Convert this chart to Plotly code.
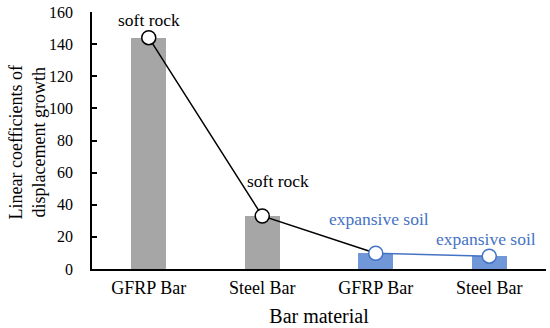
import plotly.graph_objects as go

# Values
categories = ["GFRP Bar", "Steel Bar", "GFRP Bar", "Steel Bar"]
bar_values = [144, 33, 9.8, 8]
point_values = [144, 33, 9.8, 8]
labels = ["soft rock", "soft rock", "expansive soil", "expansive soil"]
gray = "#A6A6A6"
blue = "#7097D8"
text_blue = "#4472C4"
bar_colors = [gray, gray, blue, blue]
label_colors = ["black", "black", text_blue, text_blue]

xpos = list(range(len(categories)))
font = "Liberation Serif"

fig = go.Figure()
fig.add_trace(go.Bar(x=xpos, y=bar_values, marker_color=bar_colors, width=0.31,
                     marker_line_width=0, showlegend=False))
# black line through soft rock points into first soil point
fig.add_trace(go.Scatter(x=xpos[:3], y=point_values[:3], mode="lines",
                         line=dict(color="black", width=1.5), showlegend=False))
# blue line between expansive soil points
fig.add_trace(go.Scatter(x=xpos[2:], y=point_values[2:], mode="lines",
                         line=dict(color=text_blue, width=1.5), showlegend=False))
fig.add_trace(go.Scatter(x=xpos, y=point_values, mode="markers",
                         marker=dict(size=14, color="white",
                                     line=dict(color=["black", "black", text_blue, text_blue], width=1.5)),
                         showlegend=False))

# annotation offsets (pixels) for the text labels
offsets = [(0, 18), (16, 35), (3, 34), (-3, 17)]
for i, (lab, col) in enumerate(zip(labels, label_colors)):
    fig.add_annotation(x=xpos[i], y=point_values[i], text=lab, showarrow=False,
                       xshift=offsets[i][0], yshift=offsets[i][1],
                       font=dict(family=font, size=17.5, color=col))

# y axis title as an annotation so it sits where the reference has it
fig.add_annotation(x=0, y=0.5, xref="paper", yref="paper", xanchor="center",
                   yanchor="middle", xshift=-65, yshift=-2, textangle=-90,
                   text="Linear coefficients of<br>displacement growth",
                   showarrow=False, font=dict(family=font, size=18))

fig.update_layout(
    width=550, height=328,
    margin=dict(l=92, r=4, t=12, b=59),
    plot_bgcolor="white", paper_bgcolor="white",
    font=dict(family=font, size=18, color="black"),
    bargap=0,
    xaxis=dict(range=[-0.5, 3.5], tickvals=xpos, ticktext=categories,
               showline=True, linecolor="black", linewidth=1.5, ticks="",
               showgrid=False, zeroline=False, tickfont=dict(size=18),
               ticklabelstandoff=2, automargin=False,
               title=dict(text="Bar material", font=dict(size=20), standoff=12)),
    yaxis=dict(range=[0, 160], dtick=20, showline=True, linecolor="black",
               linewidth=1.5, ticks="inside", ticklen=5, tickcolor="black",
               tickwidth=1.5, showgrid=False, zeroline=False,
               tickfont=dict(size=16), ticklabelstandoff=14, automargin=False),
)

fig.write_html("out.html", config={"displayModeBar": False},
               post_script="document.body.style.margin='0';")
